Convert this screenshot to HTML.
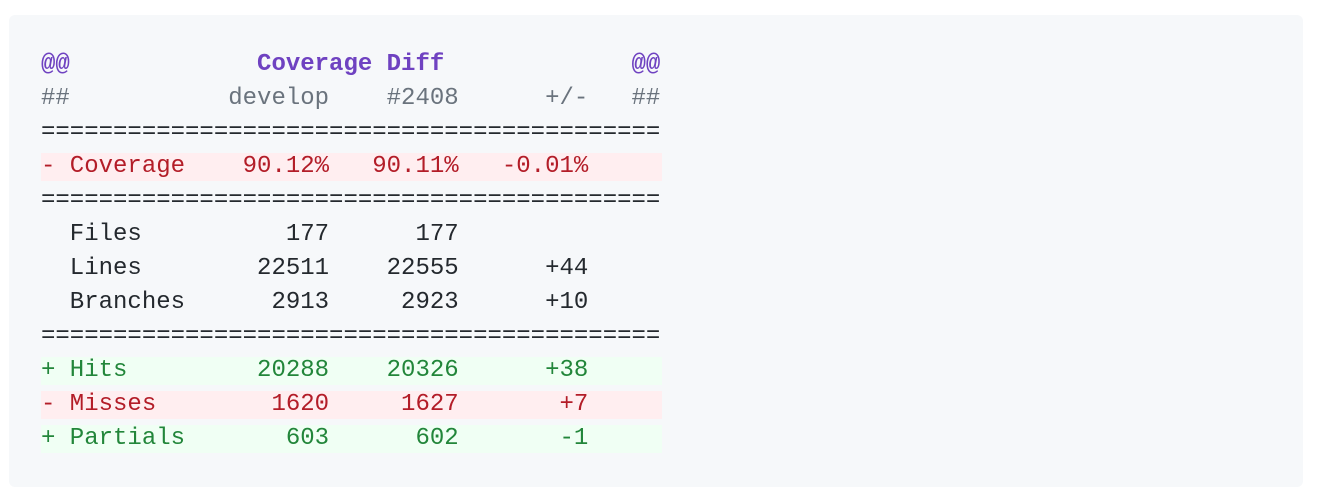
<!DOCTYPE html>
<html><head><style>
html,body{margin:0;padding:0;background:#fff;width:1320px;height:504px;overflow:hidden}
.box{position:absolute;left:9px;top:15px;width:1294px;height:472px;background:#f6f8fa;border-radius:6px}
.code{position:absolute;left:32px;top:33px;font-family:"Liberation Mono",monospace;font-size:24px;color:#24292e}
.l{height:34px;width:621px;overflow:hidden}
.l>div{height:28px;line-height:28px;margin-top:3px;white-space:pre}
.p{color:#6f42c1;font-weight:bold}
.g{color:#6a737d}
.r>div{background:#ffeef0;color:#b31d28}
.a>div{background:#f0fff4;color:#22863a}
</style></head><body>
<div class="box"><div class="code"><div class="l"><div class="p">@@             Coverage Diff             @@</div></div><div class="l"><div class="g">##           develop    #2408      +/-   ##</div></div><div class="l"><div>===========================================</div></div><div class="l r"><div>- Coverage    90.12%   90.11%   -0.01%     </div></div><div class="l"><div>===========================================</div></div><div class="l"><div>  Files          177      177              </div></div><div class="l"><div>  Lines        22511    22555      +44     </div></div><div class="l"><div>  Branches      2913     2923      +10     </div></div><div class="l"><div>===========================================</div></div><div class="l a"><div>+ Hits         20288    20326      +38     </div></div><div class="l r"><div>- Misses        1620     1627       +7     </div></div><div class="l a"><div>+ Partials       603      602       -1     </div></div></div></div>
</body></html>
